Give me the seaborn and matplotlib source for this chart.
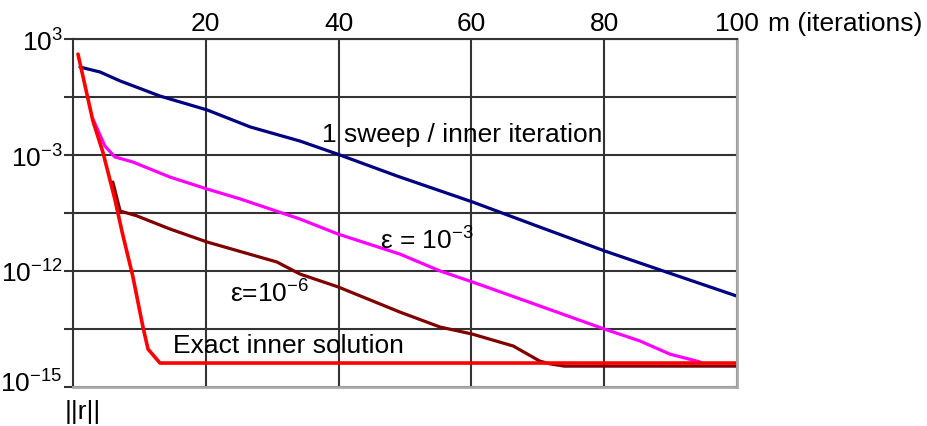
import numpy as np
import pandas as pd
import matplotlib
matplotlib.use("Agg")
import matplotlib.pyplot as plt
from matplotlib.transforms import ScaledTranslation
import seaborn as sns

sns.set_theme(style="white")
plt.rcParams["font.family"] = ["Liberation Sans", "DejaVu Sans"]
plt.rcParams["text.color"] = "black"
plt.rcParams["mathtext.fontset"] = "custom"
plt.rcParams["mathtext.rm"] = "Liberation Sans"
plt.rcParams["mathtext.it"] = "Liberation Sans:italic"
plt.rcParams["mathtext.bf"] = "Liberation Sans:bold"

# Residual norm ||r|| per outer iteration m, stored as log10 exponents.
sweep_m = [1.05, 4.1, 7.1, 13.1, 20.2, 26.7, 34.2, 39.8, 48.8, 60.2, 70.3,
           80.1, 88.9, 100]
sweep_exp = [1.55, 1.29, 0.83, 0.05, -0.67, -1.55, -2.28, -2.95, -4.63,
             -6.65, -8.59, -10.45, -12.0, -12.65]

eps3_m = [3.0, 4.8, 6.3, 9.0, 14.6, 20.2, 25.2, 34.2, 39.9, 49.2, 55.3,
          60.1, 67.3, 80.0, 85.4, 89.9, 94.4]
eps3_exp = [-1.14, -2.53, -3.15, -3.54, -4.71, -5.64, -6.41, -7.97, -9.13,
            -10.68, -12.0, -12.28, -12.72, -13.5, -13.81, -14.15, -14.35]

eps6_m = [6.0, 7.1, 9.5, 14.6, 20.2, 30.7, 34.2, 39.9, 49.2, 55.3, 60.1,
          66.3, 70.3, 71.8, 74.0, 100]
eps6_exp = [-5.1, -7.35, -7.7, -8.74, -9.75, -11.30, -12.08, -12.41, -13.06,
            -13.45, -13.63, -13.94, -14.33, -14.40, -14.46, -14.46]

exact_m = [0.75, 3.0, 4.5, 6.3, 7.4, 9.0, 10.5, 11.3, 13.1, 100]
exact_exp = [2.22, -1.24, -2.85, -6.42, -8.98, -12.13, -13.42, -14.02,
             -14.38, -14.38]

series_names = ["1 sweep / inner iteration", "eps 1e-3", "eps 1e-6", "exact"]
series_colors = ["#000080", "#ff00ff", "#800000", "#ff0000"]

frames = []
for name, m, e in zip(series_names,
                      [sweep_m, eps3_m, eps6_m, exact_m],
                      [sweep_exp, eps3_exp, eps6_exp, exact_exp]):
    frames.append(pd.DataFrame({"m": m, "r": 10.0 ** np.array(e), "series": name}))
df = pd.concat(frames, ignore_index=True)

# Axis with uneven decade spacing: gridline index vs log10(r)
LOG_KNOTS = [-15.0, -12.0, -3.0, 3.0]
POS_KNOTS = [0.0, 2.0, 4.0, 6.0]


def fwd(r):
    lg = np.log10(np.maximum(np.asarray(r, dtype=float), 1e-300))
    pos = np.interp(lg, LOG_KNOTS, POS_KNOTS)
    pos = np.where(lg < LOG_KNOTS[0], (lg - LOG_KNOTS[0]) / 1.5, pos)
    pos = np.where(lg > LOG_KNOTS[-1], 6.0 + (lg - LOG_KNOTS[-1]) / 3.0, pos)
    return pos


def inv(p):
    p = np.asarray(p, dtype=float)
    lg = np.interp(p, POS_KNOTS, LOG_KNOTS)
    lg = np.where(p < 0, LOG_KNOTS[0] + p * 1.5, lg)
    lg = np.where(p > 6, LOG_KNOTS[-1] + (p - 6.0) * 3.0, lg)
    return 10.0 ** lg


fig, ax = plt.subplots(figsize=(9.28, 4.27), dpi=100)
fig.subplots_adjust(left=73 / 928, right=737 / 928, bottom=39 / 427, top=1 - 40 / 427)

sns.lineplot(data=df, x="m", y="r", hue="series", hue_order=series_names,
             palette=dict(zip(series_names, series_colors)), estimator=None,
             sort=False, legend=False, linewidth=2.3, ax=ax)
ax.lines[-1].set_linewidth(2.6)

ax.set_yscale("function", functions=(fwd, inv))
ax.set_xlim(0, 100)
ax.set_ylim(1e-15, 1e3)
ax.set_xlabel("")
ax.set_ylabel("")

# Ticks: x labels on top, y labels on the left at selected gridlines
ax.xaxis.tick_top()
ax.set_xticks([20, 40, 60, 80, 100])
ax.set_xticklabels(["20", "40", "60", "80", "100"])
ytick_vals = inv(np.arange(7))
ytick_labels = [r"$10^{-15}$", "", r"$10^{-12}$", "", r"$10^{-3}$", "", r"$10^{3}$"]
ax.set_yticks(ytick_vals)
ax.set_yticklabels(ytick_labels)
ax.yaxis.set_minor_locator(matplotlib.ticker.NullLocator())
ax.tick_params(axis="x", which="both", length=0, pad=3, labelsize=19,
               labelcolor="black", top=True, bottom=False)
ax.tick_params(axis="y", which="both", length=6.5, width=1.5, color="#333333",
               direction="out", pad=1, labelsize=19, labelcolor="black", left=True)

# lowest label sits a little above its gridline
low = ax.get_yticklabels()[0]
low.set_transform(low.get_transform() + ScaledTranslation(0, 6 / 100, fig.dpi_scale_trans))

ax.grid(True, color="#333333", linewidth=1.5)
ax.set_axisbelow(True)

for side in ["left", "top"]:
    ax.spines[side].set_color("#333333")
    ax.spines[side].set_linewidth(1.5)
for side in ["right", "bottom"]:
    ax.spines[side].set_color("#aaaaaa")
    ax.spines[side].set_linewidth(2.0)

# Axis titles
ax.annotate("m (iterations)", xy=(1, 1), xycoords="axes fraction",
            xytext=(22, 3), textcoords="offset points",
            ha="left", va="bottom", fontsize=19, annotation_clip=False)
fig.text(65 / 928, 1 - 412 / 427, "||r||", ha="left", va="center", fontsize=19)

# Curve labels
text_kw = dict(transform=ax.transAxes, ha="left", va="baseline", fontsize=19)
ax.text(0.375, 0.707, "1 sweep / inner iteration", **text_kw)
ax.text(0.462, 0.397, "ε = $10^{-3}$", **text_kw)
ax.text(0.236, 0.244, "ε=$10^{-6}$", **text_kw)
ax.text(0.151, 0.101, "Exact inner solution", **text_kw)

fig.savefig("out.png", dpi=100)
